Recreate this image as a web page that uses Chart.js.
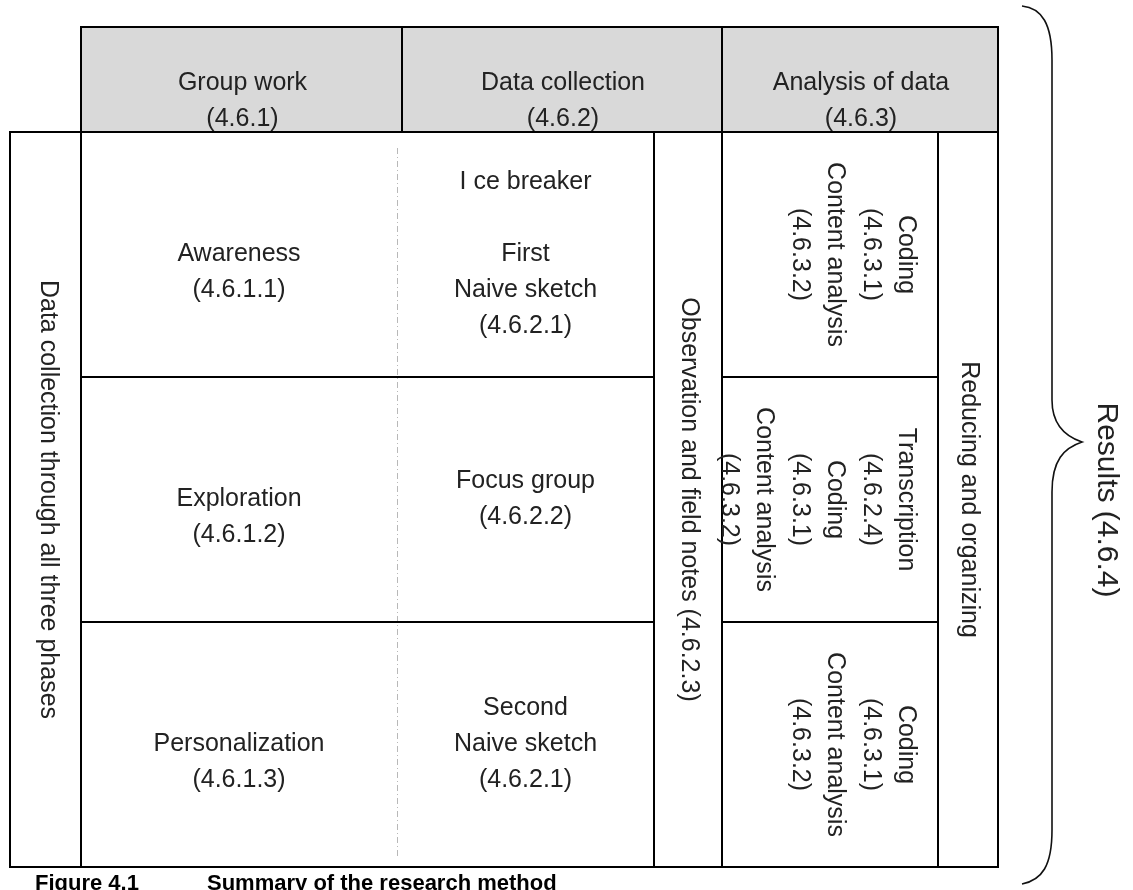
<!DOCTYPE html>
<html>
<head>
<meta charset="utf-8">
<script src="https://cdn.jsdelivr.net/npm/chart.js@4.4.1/dist/chart.umd.min.js"></script>
<style>
  html, body { margin: 0; padding: 0; background: #fff; }
  #wrap { width: 1133px; height: 890px; }
</style>
</head>
<body>
<div id="wrap"><canvas id="chart" width="1133" height="890"></canvas></div>
<script>
// diagram content
const headerTitles = ["Group work", "Data collection", "Analysis of data"];
const headerCodes = ["(4.6.1)", "(4.6.2)", "(4.6.3)"];
const phaseNames = ["Awareness", "Exploration", "Personalization"];
const phaseCodes = ["(4.6.1.1)", "(4.6.1.2)", "(4.6.1.3)"];
const collectionSteps = [
  ["I ce breaker", "", "First", "Naive sketch", "(4.6.2.1)"],
  ["Focus group", "(4.6.2.2)"],
  ["Second", "Naive sketch", "(4.6.2.1)"]
];
const analysisSteps = [
  ["Coding", "(4.6.3.1)", "Content analysis", "(4.6.3.2)"],
  ["Transcription", "(4.6.2.4)", "Coding", "(4.6.3.1)", "Content analysis", "(4.6.3.2)"],
  ["Coding", "(4.6.3.1)", "Content analysis", "(4.6.3.2)"]
];
const sideLabel = "Data collection through all three phases";
const observationLabel = "Observation and field notes (4.6.2.3)";
const reducingLabel = "Reducing and organizing";
const resultsLabel = "Results (4.6.4)";
const captionNumber = "Figure 4.1";
const captionTitle = "Summary of the research method";

// layout (in scale units)
const COL = { left: 10, side: 81, dash: 397, head2: 402, obs: 654, ana: 722, red: 938, right: 998 };
const ROW = { top: 27, head: 132, bottom: 867 };
const LINE_H = 36;
const FONT = "25px 'Liberation Sans', Arial, sans-serif";
const INK = "#222";

const diagramPlugin = {
  id: "diagram",
  afterDraw(chart) {
    const ctx = chart.ctx;
    const sx = chart.scales.x, sy = chart.scales.y;
    const px = v => sx.getPixelForValue(v);
    const py = v => sy.getPixelForValue(v);
    const rowH = (ROW.bottom - ROW.head) / phaseNames.length;
    const rowEdge = i => ROW.head + i * rowH;

    ctx.save();

    // header fill
    ctx.fillStyle = "#d9d9d9";
    ctx.fillRect(px(COL.side), py(ROW.top), px(COL.right) - px(COL.side), py(ROW.head) - py(ROW.top));

    // dashed divider between group work and data collection
    ctx.strokeStyle = "#b8b8b8";
    ctx.lineWidth = 1;
    ctx.setLineDash([6, 3, 1, 3]);
    ctx.beginPath();
    ctx.moveTo(px(COL.dash) + 0.5, py(ROW.head + 16));
    ctx.lineTo(px(COL.dash) + 0.5, py(ROW.bottom - 10));
    ctx.stroke();
    ctx.setLineDash([]);

    // solid grid
    ctx.strokeStyle = "#000";
    ctx.lineWidth = 2;
    const seg = (x1, y1, x2, y2) => {
      ctx.beginPath();
      ctx.moveTo(px(x1), py(y1));
      ctx.lineTo(px(x2), py(y2));
      ctx.stroke();
    };
    ctx.strokeRect(px(COL.side), py(ROW.top), px(COL.right) - px(COL.side), py(ROW.head) - py(ROW.top));
    ctx.strokeRect(px(COL.left), py(ROW.head), px(COL.right) - px(COL.left), py(ROW.bottom) - py(ROW.head));
    seg(COL.side, ROW.head, COL.side, ROW.bottom);
    seg(COL.head2, ROW.top, COL.head2, ROW.head);
    seg(COL.ana, ROW.top, COL.ana, ROW.bottom);
    seg(COL.obs, ROW.head, COL.obs, ROW.bottom);
    seg(COL.red, ROW.head, COL.red, ROW.bottom);
    for (let i = 1; i < phaseNames.length; i++) {
      seg(COL.side, rowEdge(i), COL.obs, rowEdge(i));
      seg(COL.ana, rowEdge(i), COL.red, rowEdge(i));
    }

    // text helpers
    ctx.fillStyle = INK;
    ctx.font = FONT;
    ctx.textAlign = "center";
    ctx.textBaseline = "middle";
    const block = (lines, cx, cy) => {
      const y0 = cy - (lines.length - 1) * LINE_H / 2;
      lines.forEach((t, i) => ctx.fillText(t, px(cx), py(y0 + i * LINE_H)));
    };
    const vertical = (text, cx, cy, font) => {
      ctx.save();
      if (font) ctx.font = font;
      ctx.translate(px(cx), py(cy));
      ctx.rotate(Math.PI / 2);
      ctx.fillText(text, 0, 0);
      ctx.restore();
    };

    // header
    const headCols = [[COL.side, COL.head2], [COL.head2, COL.ana], [COL.ana, COL.right]];
    headerTitles.forEach((t, i) => {
      const cx = (headCols[i][0] + headCols[i][1]) / 2 + 1;
      block([t, headerCodes[i]], cx, ROW.head - 31);
    });

    // body cells
    for (let i = 0; i < phaseNames.length; i++) {
      const cy = rowEdge(i) + rowH / 2;
      block(["", phaseNames[i], phaseCodes[i]], (COL.side + COL.dash) / 2, cy);
      block(collectionSteps[i], (COL.dash + COL.obs) / 2, cy);
      analysisSteps[i].forEach((t, j) => {
        vertical(t, COL.red - 32 - j * 35.5, cy);
      });
    }

    // vertical labels
    const midY = (ROW.head + ROW.bottom) / 2;
    vertical(sideLabel, (COL.left + COL.side) / 2 + 2, midY);
    vertical(observationLabel, (COL.obs + COL.ana) / 2 + 1, midY);
    vertical(reducingLabel, (COL.red + COL.right) / 2 + 1, midY);

    // brace
    ctx.strokeStyle = "#111";
    ctx.lineWidth = 1.6;
    ctx.beginPath();
    ctx.moveTo(px(1022), py(6));
    ctx.bezierCurveTo(px(1042), py(8), px(1052), py(24), px(1052), py(60));
    ctx.lineTo(px(1052), py(400));
    ctx.bezierCurveTo(px(1052), py(424), px(1064), py(436), px(1082), py(442));
    ctx.bezierCurveTo(px(1064), py(448), px(1052), py(460), px(1052), py(492));
    ctx.lineTo(px(1052), py(830));
    ctx.bezierCurveTo(px(1052), py(866), px(1042), py(880), px(1022), py(884));
    ctx.stroke();

    vertical(resultsLabel, 1106, 500, "30px 'Liberation Sans', Arial, sans-serif");

    // caption
    ctx.font = "bold 22px 'Liberation Sans', Arial, sans-serif";
    ctx.textAlign = "left";
    ctx.textBaseline = "alphabetic";
    ctx.fillStyle = "#000";
    ctx.fillText(captionNumber, px(35), py(890));
    ctx.fillText(captionTitle, px(207), py(890));

    ctx.restore();
  }
};

new Chart(document.getElementById("chart"), {
  type: "scatter",
  data: { datasets: [] },
  options: {
    responsive: false,
    animation: false,
    layout: { padding: 0 },
    plugins: { legend: { display: false }, tooltip: { enabled: false } },
    scales: {
      x: { type: "linear", min: 0, max: 1133, display: false },
      y: { type: "linear", min: 0, max: 890, reverse: true, display: false }
    }
  },
  plugins: [diagramPlugin]
});
</script>
</body>
</html>
